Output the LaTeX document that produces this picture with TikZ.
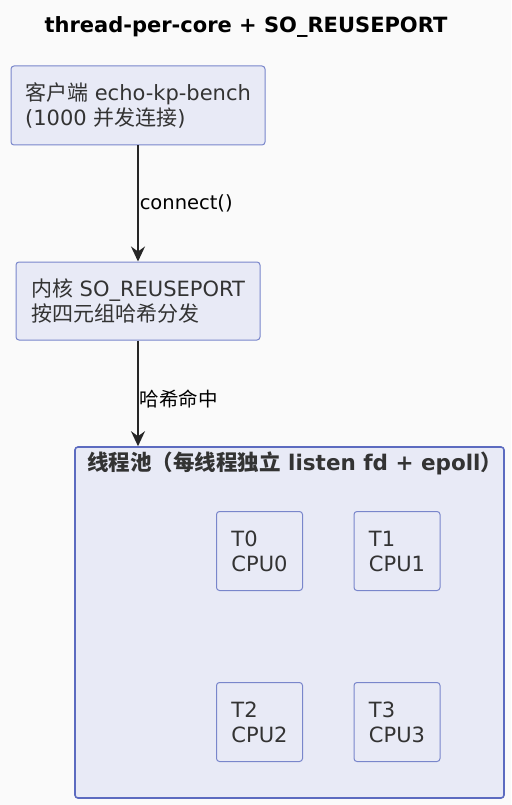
\documentclass[tikz,border=0pt]{standalone}
\usepackage{fontspec}
\setmainfont{DejaVu Sans}
\newfontfamily\cjk{Noto Sans CJK SC}
\usetikzlibrary{arrows.meta}
\definecolor{bgc}{HTML}{FAFAFA}
\definecolor{boxfill}{HTML}{E8EAF6}
\definecolor{boxdraw}{HTML}{7986CB}
\definecolor{pooldraw}{HTML}{5C6BC0}
\definecolor{txt}{HTML}{333333}
\begin{document}
\begin{tikzpicture}[x=1pt,y=-1pt,
  box/.style={draw=boxdraw, fill=boxfill, line width=1pt, rounded corners=3pt,
    text=txt, align=left, inner xsep=5pt, inner ysep=0pt,
    font=\fontsize{21}{25}\selectfont},
  poolbox/.style={draw=pooldraw, fill=boxfill, line width=1.6pt, rounded corners=3pt},
  flow/.style={draw=black!85, line width=1.5pt, -{Stealth[length=15pt,width=14pt,inset=5pt]}},
  elabel/.style={font=\fontsize{19.5}{23}\selectfont, text=black, anchor=west, inner sep=1pt}
]
\useasboundingbox[fill=bgc] (0,0) rectangle (511,805);

\node[font=\bfseries\fontsize{21}{25}\selectfont, text=black] (title) at (246,27) {thread-per-core + SO\_REUSEPORT};

\node[box, minimum width=254pt, minimum height=79pt] (client) at (138,105.5)
  {{\cjk 客户端} echo-kp-bench\\({1000} {\cjk 并发连接})};

\node[box, minimum width=244pt, minimum height=78pt] (kernel) at (138,301)
  {{\cjk 内核} SO\_REUSEPORT\\{\cjk 按四元组哈希分发}};

\node[poolbox, minimum width=429pt, minimum height=351pt] (pool) at (289.5,622.5) {};
\node[anchor=west, text=txt, inner sep=0pt, font=\bfseries\fontsize{21.5}{25}\selectfont] (pooltitle) at (87,463)
  {{\cjk 线程池（每线程独立} listen fd + epoll{\cjk ）}};

\node[box, minimum width=86pt, minimum height=79pt] (t0) at (259.5,551) {T0\\CPU0};
\node[box, minimum width=86pt, minimum height=79pt] (t1) at (397,551) {T1\\CPU1};
\node[box, minimum width=86pt, minimum height=79pt] (t2) at (259.5,722) {T2\\CPU2};
\node[box, minimum width=86pt, minimum height=79pt] (t3) at (397,722) {T3\\CPU3};

\draw[flow] (client.south) -- node[elabel, pos=0.5] (l1) {connect()} (kernel.north);
\coordinate (poolin) at (kernel.south |- pool.north);
\draw[flow] (kernel.south) -- node[elabel, pos=0.55] (l2) {\cjk 哈希命中} (poolin);
\end{tikzpicture}
\end{document}
